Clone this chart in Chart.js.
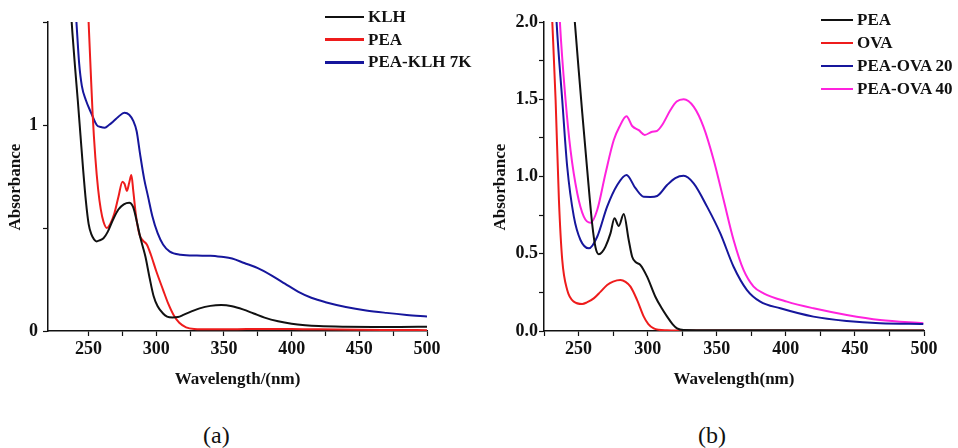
<!DOCTYPE html>
<html>
<head>
<meta charset="utf-8">
<script src="https://cdn.jsdelivr.net/npm/chart.js@4.4.1/dist/chart.umd.min.js"></script>
<style>
  body { margin: 0; background: #fff; }
  #root { position: relative; width: 958px; height: 448px; overflow: hidden; font-family: "Liberation Serif", serif; }
  canvas { position: absolute; top: 0; }
  .legend-row { position: absolute; height: 20px; display: flex; align-items: center; white-space: nowrap; font-weight: bold; font-size: 17px; color: #111; }
  .legend-line { display: inline-block; height: 2.5px; flex: none; }
  .panel-label { position: absolute; font-size: 24px; line-height: 24px; color: #111; }
</style>
</head>
<body>
<div id="root">
  <canvas id="chartA" width="479" height="390" style="left:0"></canvas>
  <canvas id="chartB" width="479" height="390" style="left:479px"></canvas>
  <div id="legendA"></div>
  <div id="legendB"></div>
  <div class="panel-label" style="left:203px; top:423px">(a)</div>
  <div class="panel-label" style="left:698px; top:423px">(b)</div>
</div>
<script>
// panel (a)
const klhX = [236, 238, 240, 242, 244, 246, 248, 250, 252, 254, 256, 258, 261, 264, 268, 272, 276, 280, 283, 286, 288, 290, 292, 295, 298, 301, 305, 308, 312, 316, 320, 326, 332, 340, 348, 356, 364, 372, 380, 390, 400, 410, 420, 440, 460, 480, 500];
const klhY = [1.65, 1.45, 1.28, 1.12, 0.95, 0.78, 0.63, 0.52, 0.47, 0.445, 0.435, 0.44, 0.45, 0.48, 0.54, 0.59, 0.615, 0.623, 0.6, 0.52, 0.46, 0.41, 0.36, 0.26, 0.17, 0.12, 0.085, 0.07, 0.066, 0.068, 0.078, 0.095, 0.11, 0.122, 0.126, 0.12, 0.105, 0.085, 0.065, 0.047, 0.035, 0.028, 0.024, 0.021, 0.02, 0.02, 0.021];

const peaAX = [248.5, 250, 251.5, 253, 255, 257, 259, 261, 263.5, 266, 269, 272, 275, 276.5, 278.3, 280, 281.6, 283, 285, 287.5, 290, 293, 296, 300, 305, 309, 313, 317, 322, 328, 340, 360, 380, 400, 420, 450, 480, 500];
const peaAY = [1.75, 1.5, 1.27, 1.05, 0.84, 0.69, 0.59, 0.53, 0.5, 0.52, 0.57, 0.65, 0.725, 0.715, 0.68, 0.72, 0.757, 0.68, 0.56, 0.47, 0.44, 0.42, 0.37, 0.29, 0.2, 0.13, 0.075, 0.04, 0.018, 0.01, 0.008, 0.009, 0.01, 0.01, 0.008, 0.006, 0.005, 0.004];

const klh7kX = [239.5, 241, 243, 245, 248, 252, 256, 259, 262, 265, 268, 272, 276.5, 280, 283, 285.5, 288, 291, 294, 297, 301, 305, 310, 318, 330, 340, 348, 356, 365, 375, 385, 395, 405, 415, 425, 440, 455, 470, 485, 500];
const klh7kY = [1.65, 1.5, 1.3, 1.19, 1.12, 1.057, 1.0, 0.99, 0.987, 1.0, 1.016, 1.04, 1.06, 1.05, 1.02, 0.97, 0.86, 0.74, 0.65, 0.56, 0.475, 0.42, 0.385, 0.37, 0.366, 0.365, 0.36, 0.352, 0.33, 0.305, 0.27, 0.23, 0.19, 0.16, 0.14, 0.117, 0.1, 0.088, 0.078, 0.07];

// panel (b)
const peaBX = [246, 247.3, 250, 252.7, 256.3, 259.9, 262.3, 264.7, 267, 269.5, 273.1, 276, 279.1, 282.7, 286.3, 288.8, 291.5, 294.8, 299.6, 305.6, 310, 314.1, 318, 321.3, 326, 340, 360, 400, 450, 500];
const peaBY = [2.15, 2.0, 1.7, 1.41, 1.04, 0.69, 0.54, 0.496, 0.51, 0.546, 0.632, 0.729, 0.68, 0.757, 0.589, 0.481, 0.445, 0.427, 0.352, 0.222, 0.15, 0.093, 0.045, 0.017, 0.006, 0.005, 0.005, 0.005, 0.004, 0.004];

const ovaX = [229.5, 231, 233.4, 235.8, 238.2, 241.8, 246.6, 252.7, 256, 261, 266, 270.7, 275, 280.3, 284, 287.6, 292.4, 297.2, 300.5, 304.4, 308, 314, 330, 360, 400, 450, 500];
const ovaY = [2.3, 2.0, 1.495, 0.848, 0.46, 0.265, 0.19, 0.175, 0.185, 0.211, 0.255, 0.298, 0.32, 0.33, 0.318, 0.287, 0.2, 0.093, 0.045, 0.017, 0.008, 0.005, 0.003, 0.003, 0.003, 0.003, 0.003];

const ova20X = [232.5, 234.1, 238.2, 241.8, 246.6, 251.4, 257.5, 263.5, 270.7, 278, 284.7, 291.2, 297.2, 302, 306.9, 314.1, 320, 326.1, 333.3, 343, 352.6, 362.2, 371.9, 381.5, 396, 420, 444.1, 468.2, 499.5];
const ova20Y = [2.3, 2.0, 1.495, 1.063, 0.74, 0.589, 0.535, 0.61, 0.805, 0.945, 1.01, 0.924, 0.869, 0.868, 0.874, 0.945, 0.99, 1.005, 0.956, 0.805, 0.632, 0.416, 0.265, 0.19, 0.147, 0.093, 0.065, 0.05, 0.045];

const ova40X = [235, 236.5, 240.6, 244.2, 249.1, 253.8, 258.7, 263.5, 269.5, 275.5, 279.5, 284.7, 288.8, 293.6, 297.9, 303.3, 306.9, 310.5, 316.5, 321, 326.1, 333.3, 340.5, 347.8, 355, 362.2, 369.4, 376.7, 383.9, 400.8, 420, 444.1, 468.2, 499.5];
const ova40Y = [2.3, 2.0, 1.495, 1.17, 0.89, 0.74, 0.7, 0.783, 1.02, 1.236, 1.32, 1.39, 1.327, 1.3, 1.269, 1.29, 1.296, 1.333, 1.43, 1.485, 1.5, 1.452, 1.32, 1.107, 0.848, 0.589, 0.395, 0.287, 0.244, 0.19, 0.147, 0.104, 0.071, 0.05];

const legendA = [["KLH", "#111111"], ["PEA", "#ee1c1c"], ["PEA-KLH 7K", "#16169c"]];
const legendB = [["PEA", "#111111"], ["OVA", "#ee1c1c"], ["PEA-OVA 20", "#16169c"], ["PEA-OVA 40", "#ff22dd"]];

const FONT = "'Liberation Serif', 'Times New Roman', serif";
// trailing no-break spaces push the rotated title a little lower, as in the figure
const Y_TITLE = "Absorbance" + "\u00a0".repeat(5);

function toPoints(xs, ys) {
  return xs.map((x, i) => ({ x, y: ys[i] }));
}

function makeDataset(label, color, xs, ys) {
  return {
    label,
    data: toPoints(xs, ys),
    borderColor: color,
    borderWidth: 2,
    pointRadius: 0,
    fill: false,
    cubicInterpolationMode: "monotone",
  };
}

function axisStyle() {
  return {
    border: { display: true, color: "#111", width: 1.5 },
    grid: { drawOnChartArea: false, drawTicks: true, tickLength: 5, tickColor: "#111", tickWidth: 1.2 },
  };
}

function createSpectrumChart(canvas, opts) {
  return new Chart(canvas, {
    type: "line",
    data: { datasets: opts.datasets },
    options: {
      responsive: false,
      animation: false,
      layout: { padding: opts.padding },
      plugins: { legend: { display: false }, tooltip: { enabled: false } },
      scales: {
        x: {
          type: "linear",
          min: opts.xMin,
          max: 500,
          ...axisStyle(),
          ticks: {
            stepSize: 25,
            color: "#111",
            padding: 3,
            maxRotation: 0,
            autoSkip: false,
            font: { family: FONT, size: 18, weight: "bold" },
            callback: (v) => (v % 50 === 0 ? String(v) : ""),
          },
          afterBuildTicks: (scale) => {
            scale.ticks = scale.ticks.filter((t) => t.value % 25 === 0);
          },
          afterFit: (scale) => {
            scale.height = 59;
          },
          title: {
            display: true,
            text: opts.xTitle,
            color: "#111",
            padding: 0,
            font: { family: FONT, size: 17, weight: "bold" },
          },
        },
        y: {
          min: 0,
          max: opts.yMax,
          ...axisStyle(),
          ticks: {
            stepSize: opts.yStep,
            color: "#111",
            padding: opts.yPad,
            autoSkip: false,
            font: { family: FONT, size: 18, weight: "bold" },
            callback: opts.yLabel,
          },
          afterFit: (scale) => {
            scale.width = opts.yWidth;
          },
          title: {
            display: true,
            text: Y_TITLE,
            color: "#111",
            padding: 0,
            font: { family: FONT, size: 17, weight: "bold" },
          },
        },
      },
    },
  });
}

function renderLegend(target, items, left, top, gap, lineWidth) {
  target.innerHTML = items
    .map(
      ([name, color], i) => `
      <div class="legend-row" style="left:${left}px; top:${top + i * gap}px">
        <span class="legend-line" style="width:${lineWidth}px; margin-right:4px; background:${color}"></span>${name}
      </div>`
    )
    .join("");
}

createSpectrumChart(document.getElementById("chartA"), {
  datasets: [
    makeDataset("KLH", "#111111", klhX, klhY),
    makeDataset("PEA", "#ee1c1c", peaAX, peaAY),
    makeDataset("PEA-KLH 7K", "#16169c", klh7kX, klh7kY),
  ],
  padding: { left: 5, top: 22, right: 52, bottom: 0 },
  xMin: 220,
  xTitle: "Wavelength/(nm)",
  yMax: 1.5,
  yStep: 0.5,
  yPad: 5,
  yWidth: 43,
  yLabel: (v) => (v === 0 || v === 1 ? String(v) : ""),
});

createSpectrumChart(document.getElementById("chartB"), {
  datasets: [
    makeDataset("PEA", "#111111", peaBX, peaBY),
    makeDataset("OVA", "#ee1c1c", ovaX, ovaY),
    makeDataset("PEA-OVA 20", "#16169c", ova20X, ova20Y),
    makeDataset("PEA-OVA 40", "#ff22dd", ova40X, ova40Y),
  ],
  padding: { left: 11, top: 22, right: 34, bottom: 0 },
  xMin: 225,
  xTitle: "Wavelength(nm)",
  yMax: 2.0,
  yStep: 0.25,
  yPad: 1,
  yWidth: 54,
  yLabel: (v) => (Math.abs(v * 2 - Math.round(v * 2)) < 1e-9 ? v.toFixed(1) : ""),
});

renderLegend(document.getElementById("legendA"), legendA, 325, 7, 22.7, 39);
renderLegend(document.getElementById("legendB"), legendB, 821, 10, 23, 32);
</script>
</body>
</html>
